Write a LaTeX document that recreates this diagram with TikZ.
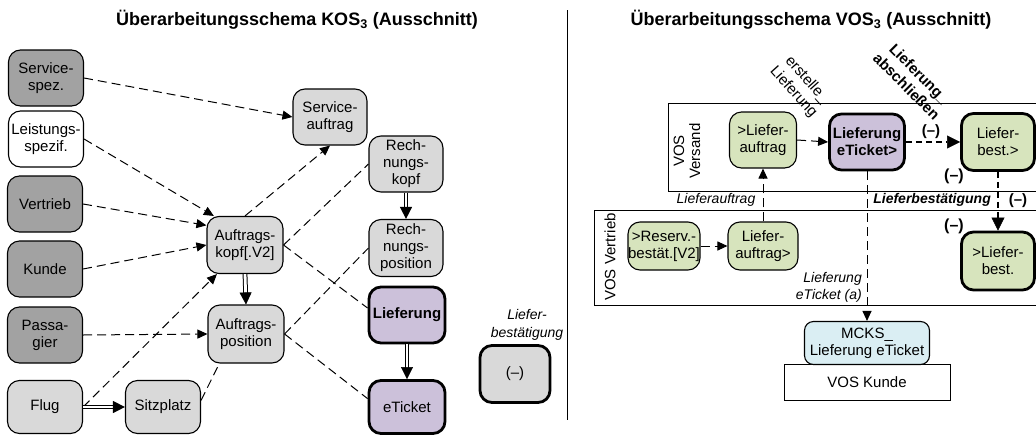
\documentclass[tikz,border=0pt]{standalone}
\usepackage{fontspec}
\setmainfont{Liberation Sans}
\usetikzlibrary{arrows.meta}
\definecolor{gdark}{RGB}{162,162,162}
\definecolor{glight}{RGB}{217,217,217}
\definecolor{lav}{RGB}{204,193,218}
\definecolor{grn}{RGB}{215,228,189}
\definecolor{lblue}{RGB}{218,238,243}
\begin{document}
\begin{tikzpicture}[x=1pt,y=-1pt,
  box/.style={draw, rounded corners=12pt, line width=1.1pt, align=center, inner sep=0pt,
    minimum width=75pt, minimum height=56pt, font=\fontsize{15}{17}\selectfont},
  dark/.style={box, fill=gdark},
  wbox/.style={box, fill=white},
  light/.style={box, fill=glight},
  lavbox/.style={box, fill=lav, line width=2.8pt},
  grnbox/.style={box, fill=grn},
  thickbox/.style={line width=2.8pt},
  lab/.style={align=center, inner sep=0pt, font=\fontsize{14}{17}\selectfont},
  ttl/.style={inner sep=0pt, font=\fontsize{18}{21}\selectfont\bfseries},
  dasharrow/.style={line width=1pt, dash pattern=on 9pt off 5pt, -{Triangle[length=10pt,width=9pt]}},
  dashline/.style={line width=1pt, dash pattern=on 9pt off 5pt},
  tdash/.style={line width=2.8pt, dash pattern=on 6pt off 4pt, -{Triangle[length=13pt,width=13pt,line width=0.5pt]}},
  dbl/.style={double, double distance=2.8pt, line width=1pt, shorten >=10pt},
  dbltip/.style={white, line width=1.5pt, -{Triangle[length=12pt,width=12pt,color=black,line width=0.5pt]}},
  frame/.style={line width=1pt}
]
\useasboundingbox (0,0) rectangle (1036,434);

% ---------- titles and divider ----------
\node[ttl] (t1) at (297,20) {Überarbeitungsschema KOS\textsubscript{3} (Ausschnitt)};
\node[ttl] (t2) at (811,20) {Überarbeitungsschema VOS\textsubscript{3} (Ausschnitt)};
\draw[frame] (567,10) -- (567,420);

% ---------- left panel ----------
\node[dark] (svcspez) at (46,78) {Service-\\spez.};
\node[wbox] (leist) at (46,139) {Leistungs-\\spezif.};
\node[dark] (vertrieb) at (45,204) {Vertrieb};
\node[dark] (kunde) at (45,269) {Kunde};
\node[dark] (pass) at (45,335) {Passa-\\gier};
\node[light, minimum height=53pt] (flug) at (45,407) {Flug};
\node[light, minimum height=53pt] (sitz) at (163,407) {Sitzplatz};
\node[light, minimum width=74pt] (svcauf) at (330,117) {Service-\\auftrag};
\node[light, minimum width=74pt] (rkopf) at (406,164) {Rech-\\nungs-\\kopf};
\node[light, minimum width=76pt, minimum height=57pt] (akopf) at (245,245) {Auftrags-\\kopf[.V2]};
\node[light, minimum width=76pt, minimum height=58pt] (apos) at (246,334) {Auftrags-\\position};
\node[light, minimum width=74pt, minimum height=57pt] (rpos) at (406,248) {Rech-\\nungs-\\position};
\node[lavbox, minimum width=76pt] (lief) at (407,315) {\textbf{Lieferung}};
\node[lavbox, minimum width=76pt, minimum height=53pt] (eticket) at (407,407) {eTicket};
\node[light, thickbox, minimum width=70pt, minimum height=57pt] (minus) at (515,374) {(–)};
\node[lab, font=\fontsize{14}{18}\selectfont\itshape] (lbest) at (527,325) {Liefer-\\bestätigung};

\draw[dasharrow] (svcspez.east) -- (svcauf.west);
\draw[dasharrow] (leist.east) -- (akopf.137);
\draw[dasharrow] (vertrieb.east) -- (akopf.153);
\draw[dasharrow] (kunde.east) -- (akopf.west);
\draw[dasharrow] (pass.east) -- (apos.west);
\draw[dasharrow] (flug.east) -- (akopf.226);
\draw[dashline] (sitz.10) -- (apos.228);
\draw[dasharrow] (akopf.north) -- (svcauf.south);
\draw[dashline] (akopf.east) -- (rkopf.west);
\draw[dashline] (akopf.east) -- (lief.170);
\draw[dashline] (apos.east) -- (rpos.west);
\draw[dashline] (apos.east) -- (eticket.168);

\draw[dbl] (flug.east) -- (sitz.west);
\draw[dbltip] (flug.east) -- (sitz.west);
\draw[dbl] (akopf.south) -- (apos.north);
\draw[dbltip] (akopf.south) -- (apos.north);
\draw[dbl] (rkopf.south) -- (rpos.north);
\draw[dbltip] (rkopf.south) -- (rpos.north);
\draw[dbl] (lief.south) -- (eticket.north);
\draw[dbltip] (lief.south) -- (eticket.north);

% ---------- right panel ----------
\draw[frame] (1040,103) -- (668,103) -- (668,191) -- (1040,191);
\draw[frame] (1040,210) -- (594,210) -- (594,305) -- (1040,305);
\node[lab, rotate=90, font=\fontsize{15}{16}\selectfont] (versand) at (687,151) {VOS\\Versand};
\node[lab, rotate=90, font=\fontsize{15}{16}\selectfont] (vvertrieb) at (610,257) {VOS Vertrieb};

\node[grnbox, minimum width=67pt] (rlauf) at (763,140) {>Liefer-\\auftrag};
\node[lavbox, minimum width=75pt, font=\fontsize{15}{17}\selectfont\bfseries] (rlet) at (867,142) {Lieferung\\eTicket>};
\node[grnbox, thickbox, minimum width=73pt, minimum height=57pt] (rlbest) at (998,142) {Liefer-\\best.>};
\node[grnbox, thickbox, minimum width=73pt, minimum height=58pt] (rlbest2) at (998,261) {>Liefer-\\best.};
\node[grnbox, minimum width=72pt, minimum height=48pt] (rres) at (664,246) {>Reserv.-\\bestät.[V2]};
\node[grnbox, minimum width=70pt, minimum height=48pt] (rlauf2) at (763,246) {Liefer-\\auftrag>};
\node[draw, fill=white, line width=1pt, minimum width=166pt, minimum height=36pt, inner sep=0pt, font=\fontsize{15}{17}\selectfont] (voskunde) at (867,382) {VOS Kunde};
\node[box, fill=lblue, rounded corners=9pt, minimum width=125pt, minimum height=43pt] (mcks) at (867,343) {MCKS\_\\Lieferung eTicket};

\draw[dasharrow] (rlauf.east) -- (rlet.west);
\draw[tdash] (rlet.east) -- (rlbest.west);
\draw[tdash] (rlbest.south) -- (rlbest2.north);
\draw[dasharrow] (rlauf2.north) -- (rlauf.south);
\draw[dasharrow] (rres.east) -- (rlauf2.west);
\draw[dasharrow] (rlet.south) -- (mcks.north);

\node[lab, font=\fontsize{14}{17}\selectfont\itshape] (llauf) at (716,200) {Lieferauftrag};
\node[lab, anchor=east, font=\fontsize{14}{17}\selectfont\bfseries\itshape] (llbest) at (991,200) {Lieferbestätigung};
\node[lab, font=\fontsize{15}{17}\selectfont\bfseries] (m1) at (1018,201) {(–)};
\node[lab, font=\fontsize{16}{17}\selectfont\bfseries] (m2) at (954,176) {(–)};
\node[lab, font=\fontsize{16}{17}\selectfont\bfseries] (m3) at (954,226) {(–)};
\node[lab, font=\fontsize{15}{17}\selectfont\bfseries] (m4) at (931,132) {(–)};
\node[lab, align=right, anchor=east, font=\fontsize{14}{17}\selectfont\itshape] (lleti) at (862,287) {Lieferung\\eTicket (a)};
\node[lab, rotate=-48, font=\fontsize{15}{18}\selectfont] (erst) at (800,86) {erstelle\_\\Lieferung};
\node[lab, rotate=-45, font=\fontsize{15}{18}\selectfont\bfseries] (absch) at (913,80) {Lieferung\_\\abschließen};
\end{tikzpicture}
\end{document}
